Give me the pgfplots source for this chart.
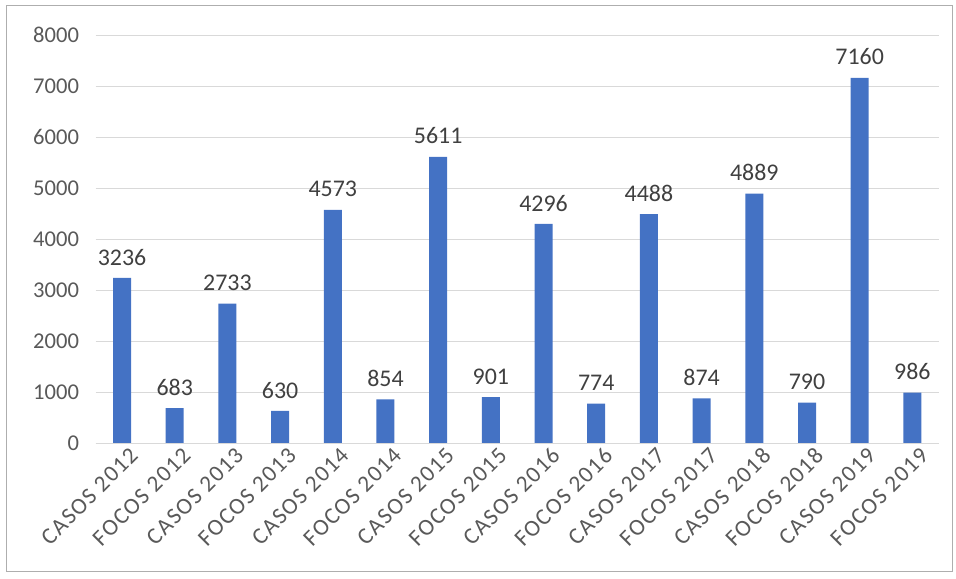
\documentclass[border=0pt]{standalone}
\usepackage{fontspec}
\setmainfont{Carlito}
\newfontfamily\xlabfont[LetterSpace=6]{Carlito}
\usepackage{pgfplots}
\pgfplotsset{compat=1.18}
\definecolor{barblue}{HTML}{4472C4}
\definecolor{ticktext}{HTML}{595959}
\definecolor{gridc}{HTML}{D9D9D9}
\definecolor{labtext}{HTML}{404040}
\begin{document}
\begin{tikzpicture}
\begin{axis}[
  scale only axis,
  width=632.25bp, height=306bp,
  xmin=-0.5, xmax=15.5, ymin=0, ymax=8000,
  ytick={0,1000,...,8000},
  xtick=data,
  xticklabels={CASOS 2012,FOCOS 2012,CASOS 2013,FOCOS 2013,CASOS 2014,FOCOS 2014,CASOS 2015,FOCOS 2015,CASOS 2016,FOCOS 2016,CASOS 2017,FOCOS 2017,CASOS 2018,FOCOS 2018,CASOS 2019,FOCOS 2019},
  x tick label style={rotate=45, anchor=north east, font=\xlabfont\fontsize{17.5}{19}\selectfont, text=ticktext, inner sep=1bp, xshift=3bp, yshift=-4bp},
  y tick label style={font=\fontsize{17}{19}\selectfont, text=ticktext},
  /pgf/number format/assume math mode=true,
  /pgf/number format/1000 sep={},
  ymajorgrids, grid style={gridc, line width=0.75bp},
  axis line style={draw=none},
  major tick length=0pt,
  yticklabel style={xshift=-9bp},
  clip=false,
  ybar, bar width=13.5bp,
  nodes near coords,
  every node near coord/.append style={font=\fontsize{18}{20}\selectfont, text=labtext, yshift=6bp},
]
\addplot[fill=barblue, draw=none] coordinates {
(0,3236) (1,683) (2,2733) (3,630) (4,4573) (5,854) (6,5611) (7,901)
(8,4296) (9,774) (10,4488) (11,874) (12,4889) (13,790) (14,7160) (15,986)};
\draw[gridc, line width=0.75bp] (rel axis cs:0,0) -- (rel axis cs:1,0);
\draw[gridc!80!black, line width=0.75bp] (rel axis cs:-0.1052,-0.316) rectangle (rel axis cs:1.0158,1.0735);
\path (rel axis cs:-0.1135,-0.3309) rectangle (rel axis cs:1.0205,1.0858);
\end{axis}
\end{tikzpicture}
\end{document}
